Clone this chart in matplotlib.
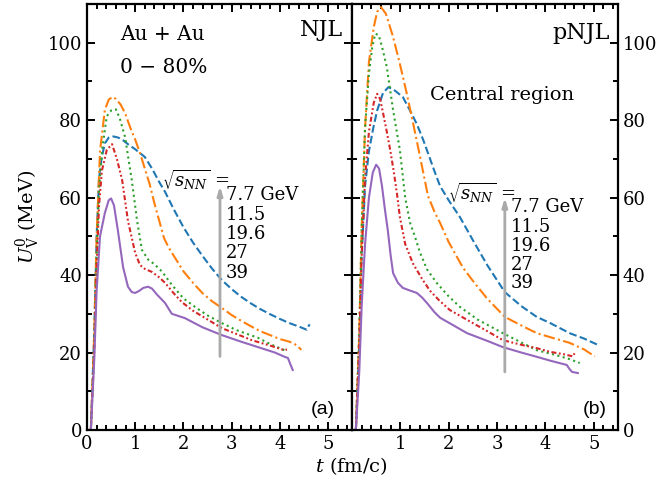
import numpy as np
import matplotlib
matplotlib.use("Agg")
import matplotlib.pyplot as plt
from matplotlib.ticker import MultipleLocator

plt.rcParams['font.family'] = ['DejaVu Serif']
plt.rcParams['mathtext.fontset'] = 'dejavuserif'

# ---------------- data ----------------
energies = ['7.7 GeV', '11.5', '19.6', '27', '39']

# NJL (panel a)
njl_t_77 = [0.08, 0.15, 0.20, 0.25, 0.30, 0.37, 0.45, 0.55, 0.65, 0.75, 0.85, 1.0, 1.2, 1.35, 1.5, 1.62, 1.8, 2.0,
            2.2, 2.4, 2.6, 2.8, 3.0, 3.2, 3.4, 3.6, 3.8, 4.0, 4.2, 4.4, 4.56, 4.62]
njl_u_77 = [0, 25, 50, 65, 70, 74, 75.5, 75.8, 75.5, 74.8, 73.8, 72.5, 70.5, 67.5, 64, 61.5, 57, 52.4,
            48.4, 44.9, 41.6, 38.7, 36.4, 34.4, 32.7, 31.2, 29.9, 28.7, 27.6, 26.7, 25.9, 27.3]

njl_t_115 = [0.08, 0.15, 0.20, 0.27, 0.37, 0.45, 0.53, 0.60, 0.70, 0.80, 0.90, 1.0, 1.1, 1.2, 1.3, 1.4, 1.5,
             1.6, 1.7, 1.8, 2.0, 2.2, 2.4, 2.6, 2.8, 3.0, 3.2, 3.4, 3.6, 3.8, 4.0, 4.2, 4.3, 4.38, 4.45]
njl_u_115 = [0, 25, 50, 72, 82.6, 85.3, 86, 85.5, 84, 81.5, 78, 75, 71.5, 67.5, 63.5, 58.5, 54,
             49.5, 47, 45, 41, 38, 35.3, 33.2, 31.5, 29.7, 28.2, 26.8, 25.5, 24.5, 23.5, 22.8, 22.3, 21.5, 20.7]

njl_t_196 = [0.08, 0.15, 0.20, 0.25, 0.32, 0.41, 0.50, 0.60, 0.68, 0.79, 0.93, 1.04, 1.14, 1.27, 1.4, 1.55,
             1.76, 2.0, 2.24, 2.5, 2.8, 3.1, 3.55, 3.8, 4.1, 4.15]
njl_u_196 = [0, 22, 45, 62, 73, 81, 82.5, 82.8, 80.5, 75.6, 64.5, 54, 46.5, 44, 42.8, 41,
             37.5, 34, 31.8, 29.6, 27.6, 25.8, 23.8, 22.2, 20.6, 21.2]

njl_t_27 = [0.08, 0.15, 0.20, 0.25, 0.31, 0.41, 0.52, 0.62, 0.73, 0.85, 1.0, 1.1, 1.2, 1.35, 1.5, 1.62,
            1.8, 1.97, 2.2, 2.4, 2.8, 3.1, 3.42, 3.8, 4.1, 4.15]
njl_u_27 = [0, 20, 42, 58, 67, 72.3, 73.8, 70, 64.5, 54, 45.7, 42.6, 41.6, 40.8, 39.4, 38,
            35.3, 33, 30.8, 29.3, 26.3, 24.8, 23.2, 21.8, 20.6, 20.8]

njl_t_39 = [0.08, 0.15, 0.20, 0.27, 0.37, 0.45, 0.50, 0.56, 0.64, 0.75, 0.85, 0.93, 1.0, 1.08, 1.17,
            1.27, 1.35, 1.45, 1.62, 1.76, 2.03, 2.4, 2.8, 3.2, 3.55, 3.9, 4.1, 4.17, 4.22, 4.27]
njl_u_39 = [0, 18, 36, 50, 56, 59.3, 59.8, 58, 51.6, 42, 37, 35.6, 35.4, 35.9, 36.7,
            37, 36.5, 35, 32.8, 30, 28.9, 26.5, 24.5, 22.8, 21.4, 20, 18.9, 18.6, 17, 15.5]

# pNJL (panel b)
pnjl_t_77 = [0.08, 0.15, 0.20, 0.27, 0.35, 0.44, 0.52, 0.64, 0.75, 0.85, 0.95, 1.05, 1.2, 1.34, 1.47, 1.6,
             1.7, 1.82, 2.0, 2.23, 2.5, 2.8, 3.16, 3.5, 3.82, 4.1, 4.5, 4.8, 5.08]
pnjl_u_77 = [0, 22, 45, 63, 72, 78, 82.5, 87, 88.5, 88, 87, 86, 82.5, 79, 75, 70.5,
             67, 63, 59.3, 55, 49, 42.5, 35.6, 32, 29.2, 27.6, 25, 23.6, 22]

pnjl_t_115 = [0.08, 0.15, 0.20, 0.27, 0.35, 0.45, 0.52, 0.60, 0.70, 0.85, 1.0, 1.13, 1.25, 1.4, 1.57,
              1.7, 1.82, 2.0, 2.29, 2.5, 2.79, 3.16, 3.5, 3.82, 4.09, 4.5, 4.8, 5.02]
pnjl_u_115 = [0, 25, 52, 78, 95, 104, 108, 109.2, 107.5, 101.5, 94, 87, 80, 71, 60.5,
              56.5, 53.5, 48.5, 42, 38.5, 34, 29.2, 27, 25, 24, 22.5, 20.8, 19]

pnjl_t_196 = [0.08, 0.15, 0.20, 0.27, 0.35, 0.42, 0.48, 0.55, 0.62, 0.72, 0.85, 0.99, 1.1, 1.2, 1.3, 1.4,
              1.55, 1.75, 2.0, 2.23, 2.6, 3.12, 3.5, 3.82, 4.2, 4.5, 4.71]
pnjl_u_196 = [0, 25, 52, 78, 92, 99, 102.3, 102, 99, 93.7, 82.6, 72.3, 60, 53.5, 50, 46,
              41.5, 38, 34.5, 31.8, 28.5, 25, 22.6, 20.6, 19.4, 18.3, 17.3]

pnjl_t_27 = [0.08, 0.15, 0.20, 0.27, 0.35, 0.45, 0.52, 0.58, 0.64, 0.72, 0.79, 0.86, 0.93, 0.99, 1.1, 1.26,
             1.45, 1.61, 1.8, 2.02, 2.4, 2.8, 3.12, 3.5, 3.8, 4.09, 4.4, 4.57, 4.6]
pnjl_u_27 = [0, 22, 45, 65, 77, 84.5, 86.8, 85.5, 82, 77, 72.3, 67, 61, 55, 48, 43,
             39, 36, 33.5, 31, 28.3, 25.5, 23.2, 22, 21.2, 20.2, 19.5, 19, 19.8]

pnjl_t_39 = [0.08, 0.15, 0.20, 0.27, 0.35, 0.43, 0.50, 0.56, 0.62, 0.68, 0.74, 0.80, 0.85, 0.95, 1.05, 1.2,
             1.34, 1.45, 1.55, 1.7, 1.82, 2.1, 2.38, 2.8, 3.12, 3.5, 3.82, 4.1, 4.44, 4.5, 4.55, 4.67]
pnjl_u_39 = [0, 15, 32, 48, 60, 66.5, 68.5, 67.5, 63, 57, 51.6, 45, 40.5, 38, 36.7, 36,
             35.4, 34.2, 32.8, 30.5, 29, 27, 25, 23, 21.4, 20, 18.9, 17.9, 16.8, 15.7, 15, 14.7]

x_ticks = [0, 1, 2, 3, 4, 5]
y_ticks = [0, 20, 40, 60, 80, 100]

# ---------------- styles ----------------
colors = ['#1f77b4', '#ff7f0e', '#2ca02c', '#d62728', '#9467bd']
dashes = [(3.7, 1.6), (5.5, 1.6, 1.0, 1.6), (1.0, 1.65), (2.4, 1.2, 0.9, 1.2, 0.9, 1.2), None]
LW = 1.5

fig = plt.figure(figsize=(6.61, 4.88), dpi=100)
W, H = 661.0, 488.0
ax1 = fig.add_axes([87 / W, 1 - 430 / H, 265 / W, 426 / H])
ax2 = fig.add_axes([352 / W, 1 - 430 / H, 266 / W, 426 / H])

panels = [
    (ax1, [(njl_t_77, njl_u_77), (njl_t_115, njl_u_115), (njl_t_196, njl_u_196),
           (njl_t_27, njl_u_27), (njl_t_39, njl_u_39)]),
    (ax2, [(pnjl_t_77, pnjl_u_77), (pnjl_t_115, pnjl_u_115), (pnjl_t_196, pnjl_u_196),
           (pnjl_t_27, pnjl_u_27), (pnjl_t_39, pnjl_u_39)]),
]

for ax, series in panels:
    for (t, u), c, d in zip(series, colors, dashes):
        ln, = ax.plot(t, u, color=c, lw=LW)
        if d is not None:
            ln.set_dashes(d)
    ax.set_xlim(0, 5.5)
    ax.set_ylim(0, 110)
    ax.set_xticks(x_ticks)
    ax.set_yticks(y_ticks)
    ax.xaxis.set_minor_locator(MultipleLocator(0.2))
    ax.yaxis.set_minor_locator(MultipleLocator(10))
    ax.tick_params(which='both', direction='in', top=True, bottom=True, left=True, right=True,
                   labelsize=13, width=1.4)
    ax.tick_params(which='major', length=6)
    ax.tick_params(which='minor', length=3.5)
    for s in ax.spines.values():
        s.set_linewidth(1.6)

ax1.tick_params(labelleft=True, labelright=False)
ax2.tick_params(labelleft=False, labelright=True)
ax2.set_xticklabels([''] + [str(v) for v in x_ticks[1:]])

ax1.set_ylabel(r'$U_{\rm V}^{0}$ (MeV)', fontsize=14, labelpad=4)
fig.text(351 / W, 1 - 466 / H, r'$t$ (fm/c)', fontsize=14, ha='center', va='center')

# annotations
ax1.text(0.68, 102, 'Au + Au', fontsize=14.5, va='center', ha='left')
ax1.text(0.68, 93.5, '0 − 80%', fontsize=14.5, va='center', ha='left')
ax1.text(5.31, 103.3, 'NJL', fontsize=16, va='center', ha='right')
ax2.text(5.33, 102.5, 'pNJL', fontsize=16, va='center', ha='right')
ax2.text(1.61, 86.5, 'Central region', fontsize=14, va='center', ha='left')
ax1.text(5.15, 5.4, '(a)', fontsize=14, va='center', ha='right', family='Liberation Sans')
ax2.text(5.27, 5.4, '(b)', fontsize=14, va='center', ha='right', family='Liberation Sans')

# legend-like labels with arrows
def energy_labels(ax, xs, ys, xv, yv, xa, ya0, ya1):
    ax.annotate('', xy=(xa, ya1), xytext=(xa, ya0),
                arrowprops=dict(arrowstyle='-|>,head_length=0.5,head_width=0.15',
                                color='#aaaaaa', lw=2.0, shrinkA=0, shrinkB=0))
    ax.text(xs, ys, r'$\sqrt{s_{NN}}$ =', fontsize=13, va='center', ha='left')
    for lab, y in zip(energies, yv):
        ax.text(xv, y, lab, fontsize=13, va='center', ha='left')

energy_labels(ax1, 1.56, 64.5, 2.88, [60.7, 55.5, 50.6, 45.7, 40.5], 2.76, 19, 63)
energy_labels(ax2, 1.98, 61.2, 3.29, [57.6, 52.4, 47.5, 42.6, 38.0], 3.16, 15, 60)

fig.savefig('out.png', dpi=100)
